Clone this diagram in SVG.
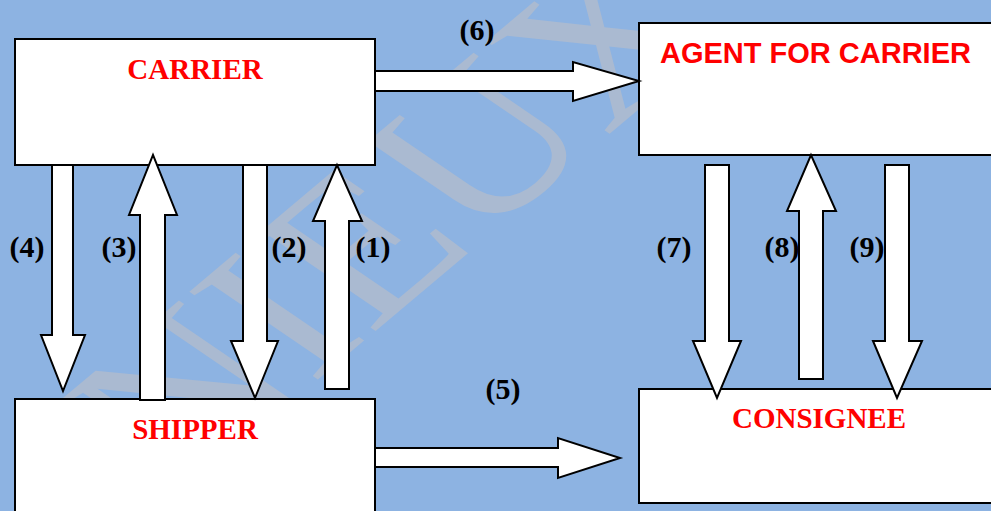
<svg xmlns="http://www.w3.org/2000/svg" width="991" height="511" viewBox="0 0 991 511">
<style>
.bg{fill:#8DB3E2}
.wm{font-family:"Liberation Serif","Times New Roman",serif;font-size:200px;fill:#AABAD1}
.box{fill:#FFFFFF;stroke:#000000;stroke-width:2}
.arr{fill:#FFFFFF;stroke:#000000;stroke-width:2;stroke-linejoin:miter}
.ttl{font-family:"Liberation Serif","Times New Roman",serif;font-weight:bold;font-size:29px;fill:#FF0000;text-anchor:middle}
.ttls{font-family:"Liberation Sans",Arial,sans-serif;font-weight:bold;font-size:29px;fill:#FF0000}
.lbl{font-family:"Liberation Serif","Times New Roman",serif;font-weight:bold;font-size:30px;fill:#000000;text-anchor:middle}
</style>
<rect class="bg" x="0" y="0" width="991" height="511"/>
<g id="watermark">
<text class="wm" transform="translate(184,492) scale(1.32,1) rotate(-48)" x="0" y="0">NIEUX</text>
</g>
<g id="carrier">
<rect class="box" x="15" y="39" width="360" height="126"/>
<text class="ttl" x="195" y="79">CARRIER</text>
</g>
<g id="shipper">
<rect class="box" x="15" y="399" width="360" height="130"/>
<text class="ttl" x="195" y="439">SHIPPER</text>
</g>
<g id="agent">
<rect class="box" x="639" y="23" width="400" height="132"/>
<text class="ttls" x="660" y="63">AGENT FOR CARRIER</text>
</g>
<g id="consignee">
<rect class="box" x="639" y="389" width="400" height="114"/>
<text class="ttl" x="819" y="428">CONSIGNEE</text>
</g>
<g id="connectors">
<polygon class="arr" points="52,165 73,165 73,335 85,335 63,391 41,335 52,335"/>
<polygon class="arr" points="140,400 140,215 129,215 153,155 177,215 165,215 165,400"/>
<polygon class="arr" points="243,165 267,165 267,341 278,341 255,398 231,341 243,341"/>
<polygon class="arr" points="325,389 325,221 313,221 337,165 362,221 349,221 349,389"/>
<polygon class="arr" points="705,165 729,165 729,341 741,341 717,398 693,341 705,341"/>
<polygon class="arr" points="799,379 799,211 787,211 811,155 836,211 823,211 823,379"/>
<polygon class="arr" points="885,165 909,165 909,341 922,341 897,398 873,341 885,341"/>
<polygon class="arr" points="375,71 573,71 573,62 639,81 573,101 573,91 375,91"/>
<polygon class="arr" points="375,448 558,448 558,438 620,458 558,478 558,467 375,467"/>
<text class="lbl" x="27" y="257">(4)</text>
<text class="lbl" x="119" y="257">(3)</text>
<text class="lbl" x="289" y="257">(2)</text>
<text class="lbl" x="373" y="257">(1)</text>
<text class="lbl" x="477" y="40">(6)</text>
<text class="lbl" x="503" y="399">(5)</text>
<text class="lbl" x="674" y="257">(7)</text>
<text class="lbl" x="782" y="257">(8)</text>
<text class="lbl" x="867" y="257">(9)</text>
</g>
</svg>
